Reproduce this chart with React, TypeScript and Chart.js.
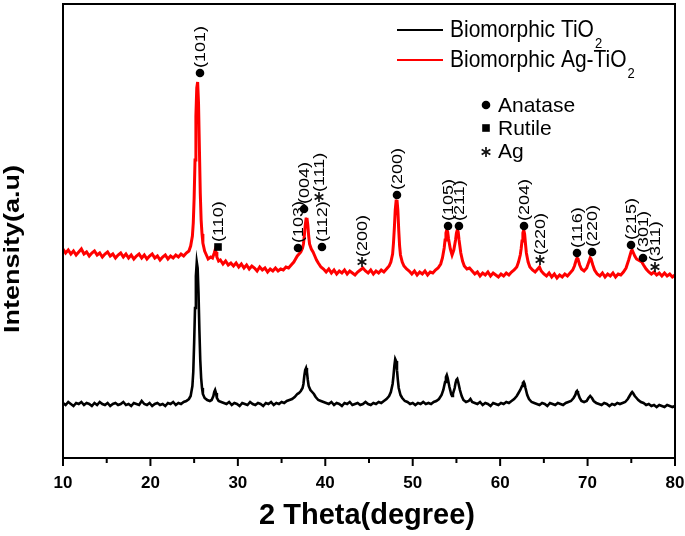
import React, { useEffect, useRef } from 'react';
import { Chart, registerables } from 'chart.js';

Chart.register(...registerables);

// ---------- axis ----------
const X_MIN = 10;
const X_MAX = 80;
const majorTicks = [10, 20, 30, 40, 50, 60, 70, 80];
const minorTicks = [15, 25, 35, 45, 55, 65, 75];
const Y_MIN = 0;
const Y_MAX = 454;

// ---------- series: [2θ, intensity (a.u.)] ----------
const tio2: [number, number][] = [
  [10.0, 55], [10.3, 53], [10.6, 56], [10.9, 54], [11.2, 52], [11.5, 55], [11.8, 54], [12.1, 56], [12.4, 53], [12.7, 55],
  [13.0, 54], [13.3, 52], [13.6, 55], [13.9, 53], [14.2, 56], [14.5, 54], [14.8, 53], [15.1, 55], [15.4, 52], [15.7, 54],
  [16.0, 55], [16.3, 53], [16.6, 54], [16.9, 56], [17.2, 53], [17.5, 54], [17.8, 52], [18.1, 55], [18.4, 54], [18.7, 53],
  [19.0, 57], [19.3, 54], [19.6, 53], [19.9, 55], [20.2, 52], [20.5, 54], [20.8, 55], [21.1, 53], [21.4, 54], [21.7, 52],
  [22.0, 55], [22.3, 54], [22.6, 56], [22.9, 53], [23.2, 55], [23.5, 54], [23.8, 56], [24.1, 57], [24.4, 59],
  [24.6, 62], [24.8, 72], [24.9, 86], [25.0, 115], [25.1, 150], [25.2, 182], [25.3, 196], [25.4, 190], [25.5, 165],
  [25.6, 128], [25.7, 98], [25.8, 80], [25.9, 70], [26.0, 64], [26.2, 60], [26.5, 58], [26.8, 57], [27.0, 58],
  [27.2, 62], [27.3, 66], [27.4, 68], [27.5, 65], [27.6, 60], [27.8, 57], [28.1, 56], [28.4, 55],
  [28.7, 54], [29.0, 56], [29.3, 53], [29.6, 55], [29.9, 54], [30.2, 52], [30.5, 55], [30.8, 54], [31.1, 53], [31.4, 56],
  [31.7, 54], [32.0, 53], [32.3, 55], [32.6, 54], [32.9, 52], [33.2, 55], [33.5, 54], [33.8, 56], [34.1, 53], [34.4, 55],
  [34.7, 54], [35.0, 56], [35.3, 55], [35.6, 57], [35.9, 58], [36.2, 59], [36.5, 61], [36.8, 64], [37.0, 65], [37.2, 67],
  [37.4, 70], [37.5, 74], [37.6, 82], [37.7, 88], [37.8, 90], [37.9, 86], [38.0, 78], [38.1, 72], [38.3, 68], [38.5, 66],
  [38.7, 64], [38.9, 61], [39.2, 58], [39.5, 57], [39.8, 56],
  [40.1, 55], [40.4, 54], [40.7, 56], [41.0, 53], [41.3, 55], [41.6, 54], [41.9, 52], [42.2, 55], [42.5, 54], [42.8, 56],
  [43.1, 53], [43.4, 54], [43.7, 55], [44.0, 53], [44.3, 54], [44.6, 56], [44.9, 54], [45.2, 53], [45.5, 55], [45.8, 54],
  [46.1, 56], [46.4, 55], [46.7, 57], [47.0, 59], [47.3, 62],
  [47.5, 66], [47.7, 74], [47.8, 82], [47.9, 92], [48.0, 99], [48.1, 97], [48.2, 88], [48.3, 78], [48.4, 70], [48.6, 63],
  [48.8, 60], [49.1, 57], [49.4, 56],
  [49.7, 54], [50.0, 55], [50.3, 53], [50.6, 55], [50.9, 54], [51.2, 56], [51.5, 54], [51.8, 55], [52.1, 54], [52.4, 56],
  [52.7, 57], [53.0, 59], [53.3, 63],
  [53.5, 68], [53.7, 76], [53.8, 81], [53.9, 83], [54.0, 80], [54.2, 71], [54.4, 64], [54.5, 62], [54.6, 64], [54.8, 70],
  [54.9, 75], [55.0, 78], [55.1, 79], [55.2, 76], [55.4, 68], [55.6, 62], [55.8, 58], [56.1, 56], [56.4, 57], [56.6, 59],
  [56.8, 56], [57.1, 55],
  [57.4, 54], [57.7, 56], [58.0, 53], [58.3, 55], [58.6, 54], [58.9, 52], [59.2, 55], [59.5, 54], [59.8, 53], [60.1, 55],
  [60.4, 54], [60.7, 56], [61.0, 55], [61.3, 57], [61.6, 59], [61.9, 62],
  [62.1, 65], [62.3, 68], [62.5, 72], [62.6, 75], [62.7, 76], [62.8, 74], [62.9, 70], [63.1, 63], [63.3, 59], [63.6, 56],
  [63.9, 55],
  [64.2, 54], [64.5, 53], [64.8, 55], [65.1, 54], [65.4, 52], [65.7, 55], [66.0, 54], [66.3, 53], [66.6, 55], [66.9, 54],
  [67.2, 53], [67.5, 55], [67.8, 56], [68.1, 57], [68.4, 60],
  [68.6, 63], [68.7, 66], [68.8, 67], [68.9, 65], [69.1, 60], [69.3, 57], [69.6, 56], [69.9, 57], [70.1, 60], [70.3, 62],
  [70.5, 60], [70.7, 57], [71.0, 55],
  [71.3, 54], [71.6, 53], [71.9, 55], [72.2, 54], [72.5, 52], [72.8, 54], [73.1, 53], [73.4, 55], [73.7, 54], [74.0, 55],
  [74.3, 56], [74.6, 59],
  [74.8, 62], [75.0, 65], [75.1, 66], [75.2, 65], [75.4, 62], [75.6, 60], [75.8, 58], [76.1, 56], [76.4, 55],
  [76.7, 53], [77.0, 54], [77.3, 52], [77.6, 53], [77.9, 51], [78.2, 53], [78.5, 52], [78.8, 51], [79.1, 53], [79.4, 52],
  [79.7, 51], [80.0, 52],
];

const agTio2: [number, number][] = [
  [10.0, 209], [10.3, 205], [10.6, 208], [10.9, 204], [11.2, 207], [11.5, 203], [11.8, 206], [12.1, 209], [12.4, 204], [12.7, 206],
  [13.0, 202], [13.3, 205], [13.6, 207], [13.9, 203], [14.2, 205], [14.5, 201], [14.8, 204], [15.1, 206], [15.4, 202], [15.7, 204],
  [16.0, 200], [16.3, 203], [16.6, 205], [16.9, 201], [17.2, 204], [17.5, 200], [17.8, 203], [18.1, 199], [18.4, 202], [18.7, 204],
  [19.0, 200], [19.3, 203], [19.6, 199], [19.9, 202], [20.2, 204], [20.5, 200], [20.8, 202], [21.1, 198], [21.4, 201], [21.7, 203],
  [22.0, 199], [22.3, 202], [22.6, 200], [22.9, 203], [23.2, 201], [23.5, 204], [23.8, 202], [24.1, 205], [24.4, 207],
  [24.6, 212], [24.8, 222], [24.9, 235], [25.0, 260], [25.1, 298], [25.2, 342], [25.3, 370], [25.4, 376], [25.5, 355],
  [25.6, 310], [25.7, 265], [25.8, 238], [25.9, 224], [26.0, 215], [26.2, 207], [26.4, 203], [26.6, 199], [26.9, 201],
  [27.1, 200], [27.3, 205], [27.4, 208], [27.5, 206], [27.6, 201], [27.8, 197], [28.0, 198],
  [28.3, 194], [28.6, 197], [28.9, 193], [29.2, 195], [29.5, 192], [29.8, 195], [30.1, 191], [30.4, 194], [30.7, 190], [31.0, 193],
  [31.3, 189], [31.6, 192], [31.9, 190], [32.2, 187], [32.5, 191], [32.8, 188], [33.1, 190], [33.4, 186], [33.7, 189], [34.0, 187],
  [34.3, 190], [34.6, 187], [34.9, 189], [35.2, 188], [35.5, 191], [35.8, 190], [36.1, 193], [36.4, 196], [36.6, 199], [36.8, 202],
  [37.0, 204], [37.2, 206], [37.4, 210],
  [37.5, 214], [37.6, 222], [37.7, 232], [37.8, 239], [37.9, 240], [38.0, 233], [38.1, 222], [38.2, 214], [38.4, 209], [38.6, 206],
  [38.8, 202], [39.0, 198], [39.2, 195], [39.5, 191], [39.8, 189],
  [40.1, 186], [40.4, 189], [40.7, 185], [41.0, 188], [41.3, 184], [41.6, 187], [41.9, 185], [42.2, 188], [42.5, 184], [42.8, 187],
  [43.1, 185], [43.4, 183], [43.7, 186], [44.0, 188], [44.3, 190], [44.6, 187], [44.9, 185], [45.2, 188], [45.5, 184], [45.8, 187],
  [46.1, 185], [46.4, 188], [46.7, 186], [47.0, 189], [47.3, 192], [47.5, 196],
  [47.7, 204], [47.8, 215], [47.9, 230], [48.0, 248], [48.1, 257], [48.2, 258], [48.3, 248], [48.4, 228], [48.5, 212], [48.6, 203],
  [48.8, 196], [49.0, 192], [49.3, 189], [49.6, 187],
  [49.9, 184], [50.2, 187], [50.5, 183], [50.8, 186], [51.1, 184], [51.4, 187], [51.7, 183], [52.0, 186], [52.3, 185], [52.6, 188],
  [52.9, 190], [53.2, 194], [53.4, 200],
  [53.6, 210], [53.7, 218], [53.8, 225], [53.9, 228], [54.0, 226], [54.1, 219], [54.3, 209], [54.5, 203], [54.7, 208], [54.9, 218],
  [55.0, 225], [55.1, 228], [55.2, 226], [55.3, 218], [55.5, 205], [55.7, 197], [55.9, 192], [56.2, 189], [56.5, 190], [56.8, 187],
  [57.1, 184], [57.4, 186], [57.7, 182], [58.0, 185], [58.3, 183], [58.6, 186], [58.9, 182], [59.2, 185], [59.5, 183], [59.8, 181],
  [60.1, 184], [60.4, 182], [60.7, 185], [61.0, 183], [61.3, 186], [61.6, 188], [61.9, 191], [62.1, 196], [62.3, 203],
  [62.4, 209], [62.5, 217], [62.6, 225], [62.7, 228], [62.8, 224], [62.9, 214], [63.0, 205], [63.2, 196], [63.4, 191], [63.7, 188],
  [64.0, 186], [64.3, 189], [64.5, 191], [64.7, 187], [65.0, 184],
  [65.3, 182], [65.6, 185], [65.9, 181], [66.2, 184], [66.5, 180], [66.8, 183], [67.1, 181], [67.4, 184], [67.7, 182], [68.0, 185],
  [68.3, 188], [68.5, 192],
  [68.7, 198], [68.8, 200], [68.9, 199], [69.1, 193], [69.3, 189], [69.6, 187], [69.9, 190], [70.1, 195], [70.3, 200], [70.4, 199],
  [70.6, 193], [70.8, 188], [71.1, 184],
  [71.4, 182], [71.7, 185], [72.0, 181], [72.3, 184], [72.6, 182], [72.9, 185], [73.2, 181], [73.5, 184], [73.8, 183], [74.1, 186],
  [74.4, 190], [74.7, 198],
  [74.9, 204], [75.0, 207], [75.1, 208], [75.2, 206], [75.4, 202], [75.6, 199], [75.8, 198], [76.0, 197], [76.2, 196], [76.4, 193],
  [76.7, 189], [77.0, 186],
  [77.3, 184], [77.6, 186], [77.9, 183], [78.2, 185], [78.5, 182], [78.8, 185], [79.1, 182], [79.4, 184], [79.7, 181], [80.0, 183],
];

// ---------- peak annotations ----------
const peakAngles = [25.67, 27.73, 36.88, 37.57, 39.28, 39.62, 44.2, 48.2, 54.04, 55.29, 62.73, 64.56, 68.79, 70.51, 74.97, 76.34, 77.71];
const peakMarkerLevels = [385, 211, 210, 249, 261, 211, 196, 263, 232, 232, 232, 198, 205, 206, 213, 200, 191];
const peakPhases = ['anatase', 'rutile', 'anatase', 'anatase', 'ag', 'anatase', 'ag', 'anatase', 'anatase', 'anatase', 'anatase', 'ag', 'anatase', 'anatase', 'anatase', 'anatase', 'ag'];
const peakLabels = ['(101)', '(110)', '(103)', '(004)', '(111)', '(112)', '(200)', '(200)', '(105)', '(211)', '(204)', '(220)', '(116)', '(220)', '(215)', '(301)', '(311)'];

// ---------- legend ----------
const seriesNames = ['Biomorphic TiO', 'Biomorphic Ag-TiO'];
const seriesSubscripts = ['2', '2'];
const seriesColors = ['#000000', '#ff0000'];
const phaseNames = ['Anatase', 'Rutile', 'Ag'];
const phaseKeys = ['anatase', 'rutile', 'ag'];

const FONT = 'Arial, "Liberation Sans", Helvetica, sans-serif';

function drawMarker(ctx: CanvasRenderingContext2D, kind: string, px: number, py: number) {
  ctx.save();
  ctx.fillStyle = '#000';
  ctx.strokeStyle = '#111';
  if (kind === 'anatase') {
    ctx.beginPath();
    ctx.arc(px, py, 4.3, 0, Math.PI * 2);
    ctx.fill();
  } else if (kind === 'rutile') {
    ctx.fillRect(px - 3.8, py - 3.8, 7.6, 7.6);
  } else {
    ctx.lineWidth = 1.7;
    const r = 5;
    for (let k = 0; k < 3; k++) {
      const ang = -Math.PI / 2 + (k * Math.PI) / 3;
      ctx.beginPath();
      ctx.moveTo(px - r * Math.cos(ang), py - r * Math.sin(ang));
      ctx.lineTo(px + r * Math.cos(ang), py + r * Math.sin(ang));
      ctx.stroke();
    }
  }
  ctx.restore();
}

const decorPlugin = {
  id: 'xrdDecor',
  afterDraw(chart: any) {
    const { ctx, chartArea: a } = chart;
    const xs = chart.scales.x;
    const ys = chart.scales.y;
    ctx.save();

    // frame
    ctx.strokeStyle = '#000';
    ctx.lineWidth = 2;
    ctx.strokeRect(a.left, a.top, a.right - a.left, a.bottom - a.top);

    // ticks
    majorTicks.forEach((v) => {
      const px = xs.getPixelForValue(v);
      ctx.beginPath();
      ctx.moveTo(px, a.bottom);
      ctx.lineTo(px, a.bottom + 8);
      ctx.stroke();
    });
    minorTicks.forEach((v) => {
      const px = xs.getPixelForValue(v);
      ctx.beginPath();
      ctx.moveTo(px, a.bottom);
      ctx.lineTo(px, a.bottom + 5);
      ctx.stroke();
    });

    // peak markers + rotated labels
    peakAngles.forEach((deg, i) => {
      const px = xs.getPixelForValue(deg);
      const py = ys.getPixelForValue(peakMarkerLevels[i]);
      drawMarker(ctx, peakPhases[i], px, py);
      ctx.save();
      ctx.translate(px + 1, py - 5);
      ctx.rotate(-Math.PI / 2);
      ctx.scale(1, 0.8);
      ctx.font = `18px ${FONT}`;
      ctx.fillStyle = '#000';
      ctx.textAlign = 'left';
      ctx.textBaseline = 'middle';
      ctx.fillText(peakLabels[i], 0, 0);
      ctx.restore();
    });

    // series legend
    seriesNames.forEach((name, i) => {
      const ly = 30 + i * 30;
      ctx.strokeStyle = seriesColors[i];
      ctx.lineWidth = 2;
      ctx.beginPath();
      ctx.moveTo(397, ly);
      ctx.lineTo(443, ly);
      ctx.stroke();
      ctx.save();
      ctx.translate(450, ly + 7);
      ctx.scale(1, 1.1);
      ctx.font = `21px ${FONT}`;
      ctx.fillStyle = '#000';
      ctx.textAlign = 'left';
      ctx.textBaseline = 'alphabetic';
      ctx.fillText(name, 0, 0);
      const w = ctx.measureText(name).width;
      ctx.font = `13px ${FONT}`;
      ctx.fillText(seriesSubscripts[i], w + 1, 10);
      ctx.restore();
    });

    // phase legend
    phaseNames.forEach((name, i) => {
      const my = [105, 128, 152][i];
      drawMarker(ctx, phaseKeys[i], 486, my);
      ctx.font = `21px ${FONT}`;
      ctx.fillStyle = '#000';
      ctx.textAlign = 'left';
      ctx.textBaseline = 'alphabetic';
      ctx.fillText(name, 498, [112, 135, 158][i]);
    });

    // axis titles
    ctx.font = `bold 29px ${FONT}`;
    ctx.fillStyle = '#000';
    ctx.textAlign = 'center';
    ctx.textBaseline = 'alphabetic';
    ctx.fillText('2 Theta(degree)', (a.left + a.right) / 2 - 2, 524);

    ctx.save();
    ctx.translate(13, 249);
    ctx.rotate(-Math.PI / 2);
    ctx.scale(1, 0.8);
    ctx.font = `bold 27px ${FONT}`;
    ctx.textAlign = 'center';
    ctx.textBaseline = 'middle';
    ctx.fillText('Intensity(a.u)', 0, 0);
    ctx.restore();

    ctx.restore();
  },
};

export default function App() {
  const canvasRef = useRef<HTMLCanvasElement | null>(null);

  useEffect(() => {
    if (!canvasRef.current) return;
    const chart = new Chart(canvasRef.current, {
      type: 'line',
      data: {
        datasets: [
          {
            label: seriesNames[0] + seriesSubscripts[0],
            data: tio2.map(([x, y]) => ({ x, y })),
            borderColor: seriesColors[0],
            borderWidth: 2.6,
            pointRadius: 0,
            tension: 0,
            order: 1,
          },
          {
            label: seriesNames[1] + seriesSubscripts[1],
            data: agTio2.map(([x, y]) => ({ x, y })),
            borderColor: seriesColors[1],
            borderWidth: 3,
            pointRadius: 0,
            tension: 0,
            order: 0,
          },
        ],
      },
      options: {
        animation: false,
        responsive: false,
        devicePixelRatio: 1,
        layout: { padding: { left: 63, right: 10, top: 4, bottom: 0 } },
        plugins: { legend: { display: false }, tooltip: { enabled: false } },
        scales: {
          x: {
            type: 'linear',
            min: X_MIN,
            max: X_MAX,
            afterFit: (scale: any) => {
              scale.height = 78;
              scale.paddingLeft = 0;
              scale.paddingRight = 0;
            },
            afterBuildTicks: (scale: any) => {
              scale.ticks = majorTicks.map((v) => ({ value: v }));
            },
            grid: { display: false, drawTicks: false },
            border: { display: false },
            ticks: {
              autoSkip: false,
              maxRotation: 0,
              padding: 15,
              color: '#000',
              font: { family: FONT, size: 17, weight: 'bold' },
            },
          },
          y: {
            display: false,
            min: Y_MIN,
            max: Y_MAX,
          },
        },
      },
      plugins: [decorPlugin],
    } as any);
    return () => chart.destroy();
  }, []);

  return (
    <div style={{ position: 'absolute', left: 0, top: 0, width: 685, height: 536, background: '#fff' }}>
      <canvas ref={canvasRef} width={685} height={536} />
    </div>
  );
}
